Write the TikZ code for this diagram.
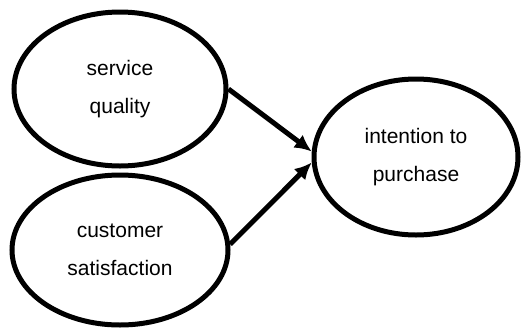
\documentclass[tikz,border=0pt]{standalone}
\usepackage{fontspec}
\setmainfont{Liberation Sans}
\usetikzlibrary{shapes.geometric,arrows.meta}
\tikzset{
  construct/.style={draw=black, line width=5pt, ellipse, align=center,
    font=\fontsize{21}{38}\selectfont},
  effect/.style={line width=5pt, -{Latex[length=17pt,width=16pt]}}
}

\begin{document}
\begin{tikzpicture}[x=1pt, y=-1pt]
        \useasboundingbox (0, 0) rectangle (522, 330);
        % the three constructs
        \node[construct, minimum width=212pt, minimum height=154pt] (sq) at (120, 89) {service\\quality};
        \node[construct, minimum width=216pt, minimum height=150pt] (cs) at (120, 250) {customer\\satisfaction};
        \node[construct, minimum width=204pt, minimum height=156pt] (ip) at (416, 157) {intention to\\purchase};
        % paths into intention
        \draw[effect] (sq.east) -- (ip.177);
        \draw[effect] (cs.3) -- (ip.183);
    \end{tikzpicture}
\end{document}
